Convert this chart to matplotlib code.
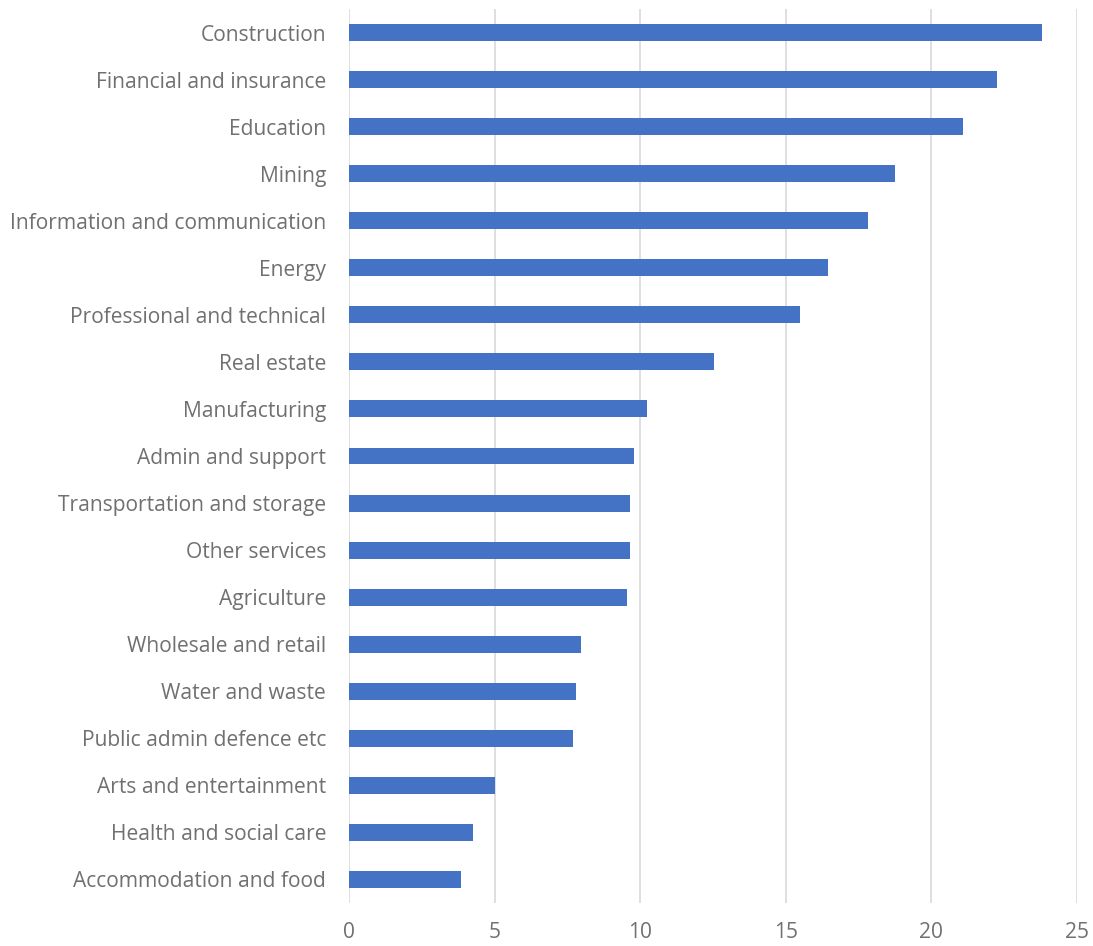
import matplotlib.pyplot as plt
import numpy as np

categories = [
    "Construction", "Financial and insurance", "Education", "Mining",
    "Information and communication", "Energy", "Professional and technical",
    "Real estate", "Manufacturing", "Admin and support",
    "Transportation and storage", "Other services", "Agriculture",
    "Wholesale and retail", "Water and waste", "Public admin defence etc",
    "Arts and entertainment", "Health and social care", "Accommodation and food",
]
values = [23.81, 22.24, 21.09, 18.74, 17.82, 16.44, 15.50, 12.53, 10.25, 9.77,
          9.66, 9.64, 9.53, 7.95, 7.79, 7.68, 5.02, 4.26, 3.86]
x_ticks = [0, 5, 10, 15, 20, 25]

plt.rcParams['font.family'] = ['Open Sans', 'DejaVu Sans']

fig = plt.figure(figsize=(10.93, 9.46), dpi=100)
ax = fig.add_axes([349 / 1093, 1 - 903 / 946, (1077 - 349) / 1093, (903 - 9) / 946])

y = np.arange(len(categories))
ax.barh(y, values, height=0.36, color='#4472C4', zorder=3)

ax.set_xlim(0, 25)
ax.set_ylim(len(categories) - 0.5, -0.5)
ax.set_yticks(y)
ax.set_yticklabels(categories)
ax.set_xticks(x_ticks)
ax.xaxis.grid(True, color='#d9d9d9', linewidth=1.2, zorder=0)
ax.tick_params(axis='both', length=0, labelsize=15.1, colors='#707070')
ax.tick_params(axis='y', pad=16.5)
ax.tick_params(axis='x', pad=14)
for s in ax.spines.values():
    s.set_visible(False)

fig.savefig('out.png', dpi=100)
